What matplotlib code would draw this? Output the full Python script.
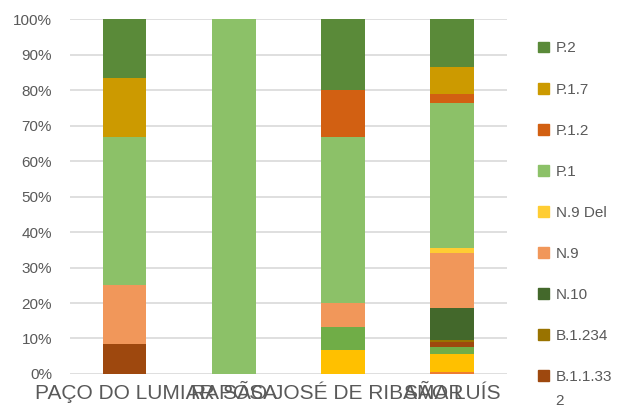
import matplotlib
matplotlib.use('Agg')
import matplotlib.pyplot as plt
from matplotlib.patches import Patch

plt.rcParams['font.family'] = ['Liberation Sans', 'DejaVu Sans']

# Municípios
cidades = ['PAÇO DO LUMIAR', 'RAPOSA', 'SÃO JOSÉ DE RIBAMAR', 'SÃO LUÍS']

# Linhagens, de baixo para cima na pilha
linhagens = ['B.1.1', 'B.1.1.28', 'B.1.1.33', 'B.1.1.332', 'B.1.234',
             'N.10', 'N.9', 'N.9 Del', 'P.1', 'P.1.2', 'P.1.7', 'P.2']
cores = ['#ED7D31', '#FFC000', '#70AD47', '#9E480E', '#997300',
         '#43682B', '#F1975A', '#FFCD33', '#8CC168', '#D26012', '#CC9A00', '#5A8A39']

# Percentual de cada linhagem por município
b_1_1 = [0, 0, 0, 0.5]
b_1_1_28 = [0, 0, 6.67, 5.0]
b_1_1_33 = [0, 0, 6.67, 2.0]
b_1_1_332 = [8.33, 0, 0, 1.5]
b_1_234 = [0, 0, 0, 0.5]
n_10 = [0, 0, 0, 9.0]
n_9 = [16.67, 0, 6.67, 15.5]
n_9_del = [0, 0, 0, 1.5]
p_1 = [41.67, 100, 46.67, 41.0]
p_1_2 = [0, 0, 13.33, 2.5]
p_1_7 = [16.67, 0, 0, 7.5]
p_2 = [16.67, 0, 20.0, 13.5]

series = [b_1_1, b_1_1_28, b_1_1_33, b_1_1_332, b_1_234, n_10,
          n_9, n_9_del, p_1, p_1_2, p_1_7, p_2]

fig = plt.figure(figsize=(6.17, 4.16), dpi=100)
ax = fig.add_axes([0.1135, 0.101, 0.708, 0.853])

x = range(len(cidades))
base = [0] * len(cidades)
for valores, cor, nome in zip(series, cores, linhagens):
    ax.bar(x, valores, bottom=base, width=0.4, color=cor, label=nome, zorder=3)
    base = [b + v for b, v in zip(base, valores)]

ax.set_xlim(-0.5, 3.5)
ax.set_ylim(0, 100)
ax.set_yticks(range(0, 101, 10))
ax.set_yticklabels([f'{v}%' for v in range(0, 101, 10)])
ax.set_xticks(list(x))
ax.set_xticklabels(cidades)
ax.grid(axis='y', color='#D9D9D9', linewidth=1.2, zorder=0)
for s in ax.spines.values():
    s.set_visible(False)
ax.tick_params(axis='y', length=0, pad=13, labelsize=11, labelcolor='#595959')
ax.tick_params(axis='x', length=0, pad=7, labelsize=15, labelcolor='#595959')

# Legenda (ordem invertida, como no gráfico empilhado)
visiveis = ['P.2', 'P.1.7', 'P.1.2', 'P.1', 'N.9 Del', 'N.9', 'N.10', 'B.1.234', 'B.1.1.332']
handles = []
rotulos = []
for nome in visiveis:
    i = linhagens.index(nome)
    handles.append(Patch(color=cores[i]))
    rotulos.append('B.1.1.33' if nome == 'B.1.1.332' else nome)
leg = fig.legend(handles, rotulos, loc='upper left', bbox_to_anchor=(0.862, 0.915),
                 frameon=False, fontsize=11, labelcolor='#595959',
                 handlelength=0.7, handleheight=0.7, handletextpad=0.45,
                 labelspacing=1.77, borderaxespad=0)

# o último rótulo quebra em duas linhas
fig.canvas.draw()
ult = leg.get_texts()[-1].get_window_extent()
inv = fig.transFigure.inverted()
x0, y0 = inv.transform((ult.x0, ult.y0))
fig.text(x0, y0 - 0.025, '2', fontsize=11, color='#595959', va='top', ha='left')

fig.savefig('out.png', dpi=100)
